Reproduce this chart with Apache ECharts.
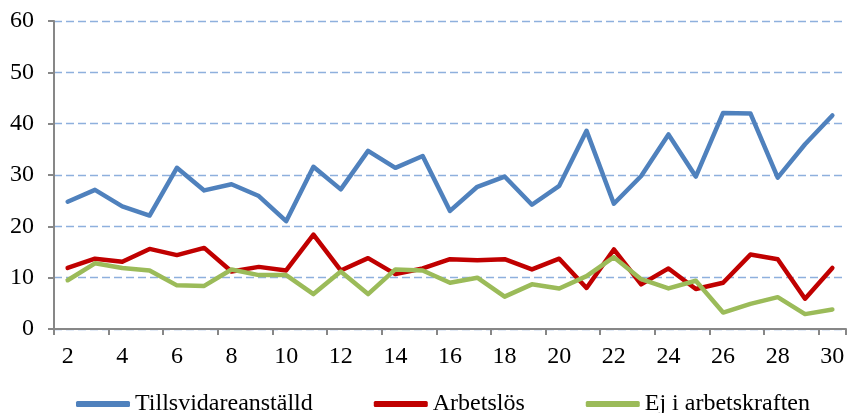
<!DOCTYPE html>
<html>
<head>
<meta charset="utf-8">
<script src="https://cdn.jsdelivr.net/npm/echarts@6/dist/echarts.min.js"></script>
<style>
  html, body { margin: 0; padding: 0; background: #fff; }
  #chart { width: 848px; height: 413px; }
</style>
</head>
<body>
<div id="chart"></div>
<script>
// Category labels (2..30) and the three series
const categories = ['2','3','4','5','6','7','8','9','10','11','12','13','14','15','16',
  '17','18','19','20','21','22','23','24','25','26','27','28','29','30'];

const tillsvidare = [24.8, 27.1, 23.9, 22.1, 31.4, 27.0, 28.2, 25.9, 21.0, 31.6,
  27.2, 34.7, 31.4, 33.7, 23.0, 27.7, 29.7, 24.2, 27.9, 38.6,
  24.4, 29.8, 37.9, 29.7, 42.1, 42.0, 29.5, 36.0, 41.6];

const arbetslos = [11.9, 13.7, 13.1, 15.6, 14.4, 15.8, 11.2, 12.1, 11.4, 18.4,
  11.4, 13.8, 10.7, 11.8, 13.6, 13.4, 13.6, 11.6, 13.7, 8.0,
  15.5, 8.7, 11.8, 7.8, 9.0, 14.5, 13.6, 5.9, 11.9];

const ejArbetskraften = [9.5, 12.8, 11.9, 11.4, 8.5, 8.4, 11.6, 10.5, 10.5, 6.8,
  11.2, 6.8, 11.6, 11.4, 9.0, 10.0, 6.3, 8.7, 7.9, 10.3,
  14.0, 9.7, 7.9, 9.4, 3.2, 4.9, 6.2, 2.9, 3.8];

const seriesNames = ['Tillsvidareanställd', 'Arbetslös', 'Ej i arbetskraften'];
const seriesColors = ['#4F81BD', '#C00000', '#9BBB59'];
const seriesData = [tillsvidare, arbetslos, ejArbetskraften];

const font = "'Liberation Serif', 'Times New Roman', serif";
const chart = echarts.init(document.getElementById('chart'), null, { renderer: 'canvas' });

chart.setOption({
  animation: false,
  backgroundColor: '#ffffff',
  textStyle: { fontFamily: font },
  grid: { left: 54, right: 2, top: 21, bottom: 84, containLabel: false },
  legend: {
    top: 387,
    left: 71,
    itemWidth: 54,
    itemHeight: 6,
    itemGap: 61,
    icon: 'roundRect',
    textStyle: { fontFamily: font, fontSize: 24, color: '#000' },
    data: seriesNames
  },
  xAxis: {
    type: 'category',
    data: categories,
    boundaryGap: true,
    axisLine: { show: true, lineStyle: { color: '#878787', width: 2 } },
    axisTick: { show: true, interval: 1, length: 6, lineStyle: { color: '#878787', width: 2 } },
    axisLabel: { interval: 1, margin: 16, fontFamily: font, fontSize: 24, color: '#000' },
    splitLine: { show: false }
  },
  yAxis: {
    type: 'value',
    min: 0,
    max: 60,
    interval: 10,
    axisLine: { show: true, lineStyle: { color: '#878787', width: 2 } },
    axisTick: { show: true, length: 6, lineStyle: { color: '#878787', width: 2 } },
    axisLabel: { margin: 20, fontFamily: font, fontSize: 24, color: '#000' },
    splitLine: { show: true, lineStyle: { color: '#8EB0DD', width: 1.4, type: [8, 4] } }
  },
  series: seriesData.map((d, i) => ({
    name: seriesNames[i],
    type: 'line',
    data: d,
    symbol: 'none',
    color: seriesColors[i],
    lineStyle: { width: 4.5, color: seriesColors[i], cap: 'round', join: 'round' }
  }))
});
</script>
</body>
</html>
